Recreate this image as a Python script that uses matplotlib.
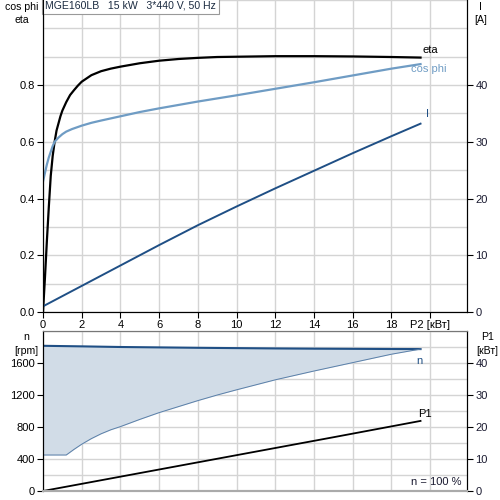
import matplotlib.pyplot as plt
import numpy as np

plt.rcParams['font.family'] = ['Liberation Sans', 'DejaVu Sans']
plt.rcParams['font.size'] = 8

# top chart data (P2 in kW)
p2_eta = [0, 0.1, 0.2, 0.3, 0.4, 0.5, 0.6, 0.7, 0.8, 0.9, 1.0, 1.2, 1.4, 1.6, 1.8, 2.0,
          2.5, 3, 3.5, 4, 4.5, 5, 6, 7, 8, 9, 10, 12, 14, 16, 18, 19.5]
eta = [0.0, 0.12, 0.25, 0.37, 0.48, 0.55, 0.60, 0.64, 0.665, 0.69, 0.71, 0.74, 0.765,
       0.782, 0.798, 0.812, 0.835, 0.849, 0.858, 0.865, 0.871, 0.877, 0.886, 0.892,
       0.896, 0.899, 0.900, 0.902, 0.902, 0.901, 0.899, 0.897]

p2_cos = [0, 0.1, 0.2, 0.3, 0.4, 0.5, 0.6, 0.8, 1.0, 1.2, 1.5, 2, 2.5, 3, 4, 5, 6,
          8, 10, 12, 14, 16, 18, 19.5]
cosphi = [0.46, 0.49, 0.52, 0.545, 0.565, 0.585, 0.60, 0.615, 0.627, 0.636, 0.645,
          0.657, 0.667, 0.675, 0.69, 0.705, 0.718, 0.742, 0.764, 0.787, 0.81, 0.834,
          0.858, 0.874]

p2_i = [0, 2, 4, 6, 8, 10, 12, 14, 16, 18, 19.5]
current = [1.0, 4.6, 8.2, 11.8, 15.3, 18.6, 21.8, 24.9, 28.0, 31.0, 33.2]

# bottom chart data
p2_n = [0, 2, 4, 6, 8, 10, 12, 14, 16, 18, 19.5]
n_max = [1815, 1808, 1800, 1795, 1790, 1786, 1782, 1779, 1777, 1775, 1774]
p2_nmin = [0, 1.2, 1.6, 2, 2.5, 3, 3.5, 4, 5, 6, 7, 8, 9, 10, 12, 14, 16, 18, 19.5]
n_min = [450, 450, 520, 585, 655, 715, 765, 805, 895, 980, 1055, 1130, 1200, 1265,
         1390, 1500, 1605, 1710, 1774]

p2_p1 = [0, 5, 10, 15, 19.5]
p1 = [0, 5.6, 11.2, 16.8, 21.9]

xticks = [0, 2, 4, 6, 8, 10, 12, 14, 16, 18, 20]
xlabels = ['0', '2', '4', '6', '8', '10', '12', '14', '16', '18', 'P2 [кВт]']

grid_c = '#d4d4d4'
dark_blue = '#1f4f85'
light_blue = '#6f9cc4'

fig = plt.figure(figsize=(5, 5), dpi=100)

# ---- top axes
ax = fig.add_axes([0.086, 0.376, 0.848, 0.624])
ax.set_xlim(0, 21.9)
ax.set_ylim(0, 1.1)
ax.set_yticks(np.arange(0, 1.11, 0.1), minor=True)
ax.set_xticks(xticks)
ax.set_xticklabels(xlabels)
ax.set_yticks([0, 0.2, 0.4, 0.6, 0.8])
ax.set_yticklabels(['0.0', '0.2', '0.4', '0.6', '0.8'])
ax.grid(True, which='both', color=grid_c, lw=1)
ax.set_axisbelow(True)
ax.tick_params(which='minor', length=0)
ax.tick_params(length=4, width=0.8, pad=2)
ax.spines['top'].set_visible(False)

ax.plot(p2_eta, eta, color='black', lw=1.6)
ax.plot(p2_cos, cosphi, color=light_blue, lw=1.6)

ax2 = ax.twinx()
ax2.set_ylim(0, 55)
ax2.set_yticks([0, 10, 20, 30, 40])
ax2.tick_params(length=4, width=0.8, pad=2, labelcolor='#1a1a30')
ax2.spines['top'].set_visible(False)
ax2.plot(p2_i, current, color=dark_blue, lw=1.4)

ax.text(19.6, 0.905, 'eta', color='black', va='bottom')
ax.text(19.0, 0.838, 'cos phi', color=light_blue, va='bottom')
ax.text(19.8, 0.68, 'I', color=dark_blue, va='bottom')

ax.text(0.12, 1.097, 'MGE160LB   15 kW   3*440 V, 50 Hz', va='top', ha='left',
        fontsize=7.6, color='#1a2a40',
        bbox=dict(boxstyle='square,pad=0.3', fc='white', ec='#999999', lw=0.8))

fig.text(0.043, 0.997, 'cos phi\neta', ha='center', va='top', fontsize=7.6, linespacing=1.45)
fig.text(0.962, 0.997, 'I\n[A]', ha='center', va='top', fontsize=7.6, linespacing=1.45)

# ---- bottom axes
bx = fig.add_axes([0.086, 0.018, 0.848, 0.32])
bx.set_xlim(0, 21.9)
bx.set_ylim(0, 2000)
bx.set_xticks(xticks)
bx.set_xticklabels([])
bx.set_yticks([0, 400, 800, 1200, 1600])
bx.set_yticks(np.arange(0, 2001, 200), minor=True)
bx.grid(True, which='both', color=grid_c, lw=1)
bx.set_axisbelow(True)
bx.tick_params(axis='x', length=0)
bx.tick_params(which='minor', length=0)
bx.tick_params(axis='y', length=4, width=0.8, pad=2)
bx.spines['top'].set_color('#777777')
bx.spines['bottom'].set_color('#aaaaaa')
bx.spines['bottom'].set_linewidth(1.5)

grid_x = sorted(set(p2_n) | set(p2_nmin))
bx.fill_between(grid_x, np.interp(grid_x, p2_nmin, n_min), np.interp(grid_x, p2_n, n_max),
                color='#d1dce7', lw=0)
bx.plot(p2_n, n_max, color=dark_blue, lw=1.5)
bx.plot(p2_nmin, n_min, color='#5a7fa8', lw=0.7)

bx2 = bx.twinx()
bx2.set_ylim(0, 50)
bx2.set_yticks([0, 10, 20, 30, 40])
bx2.tick_params(length=4, width=0.8, pad=2, labelcolor='#1a1a30')
bx2.spines['top'].set_color('#777777')
bx2.spines['bottom'].set_color('#aaaaaa')
bx2.spines['bottom'].set_linewidth(1.5)
bx2.plot(p2_p1, p1, color='black', lw=1.3)

bx.text(19.3, 1690, 'n', color=dark_blue, va='top')
bx2.text(19.4, 22.6, 'P1', color='black', va='bottom')
bx2.text(21.6, 1.2, 'n = 100 %', color='#1a1a30', ha='right', va='bottom')

fig.text(0.053, 0.336, 'n\n[rpm]', ha='center', va='top', fontsize=7.6, linespacing=1.45)
fig.text(0.975, 0.336, 'P1\n[кВт]', ha='center', va='top', fontsize=7.6, linespacing=1.45)

fig.savefig('out.png', dpi=100)
